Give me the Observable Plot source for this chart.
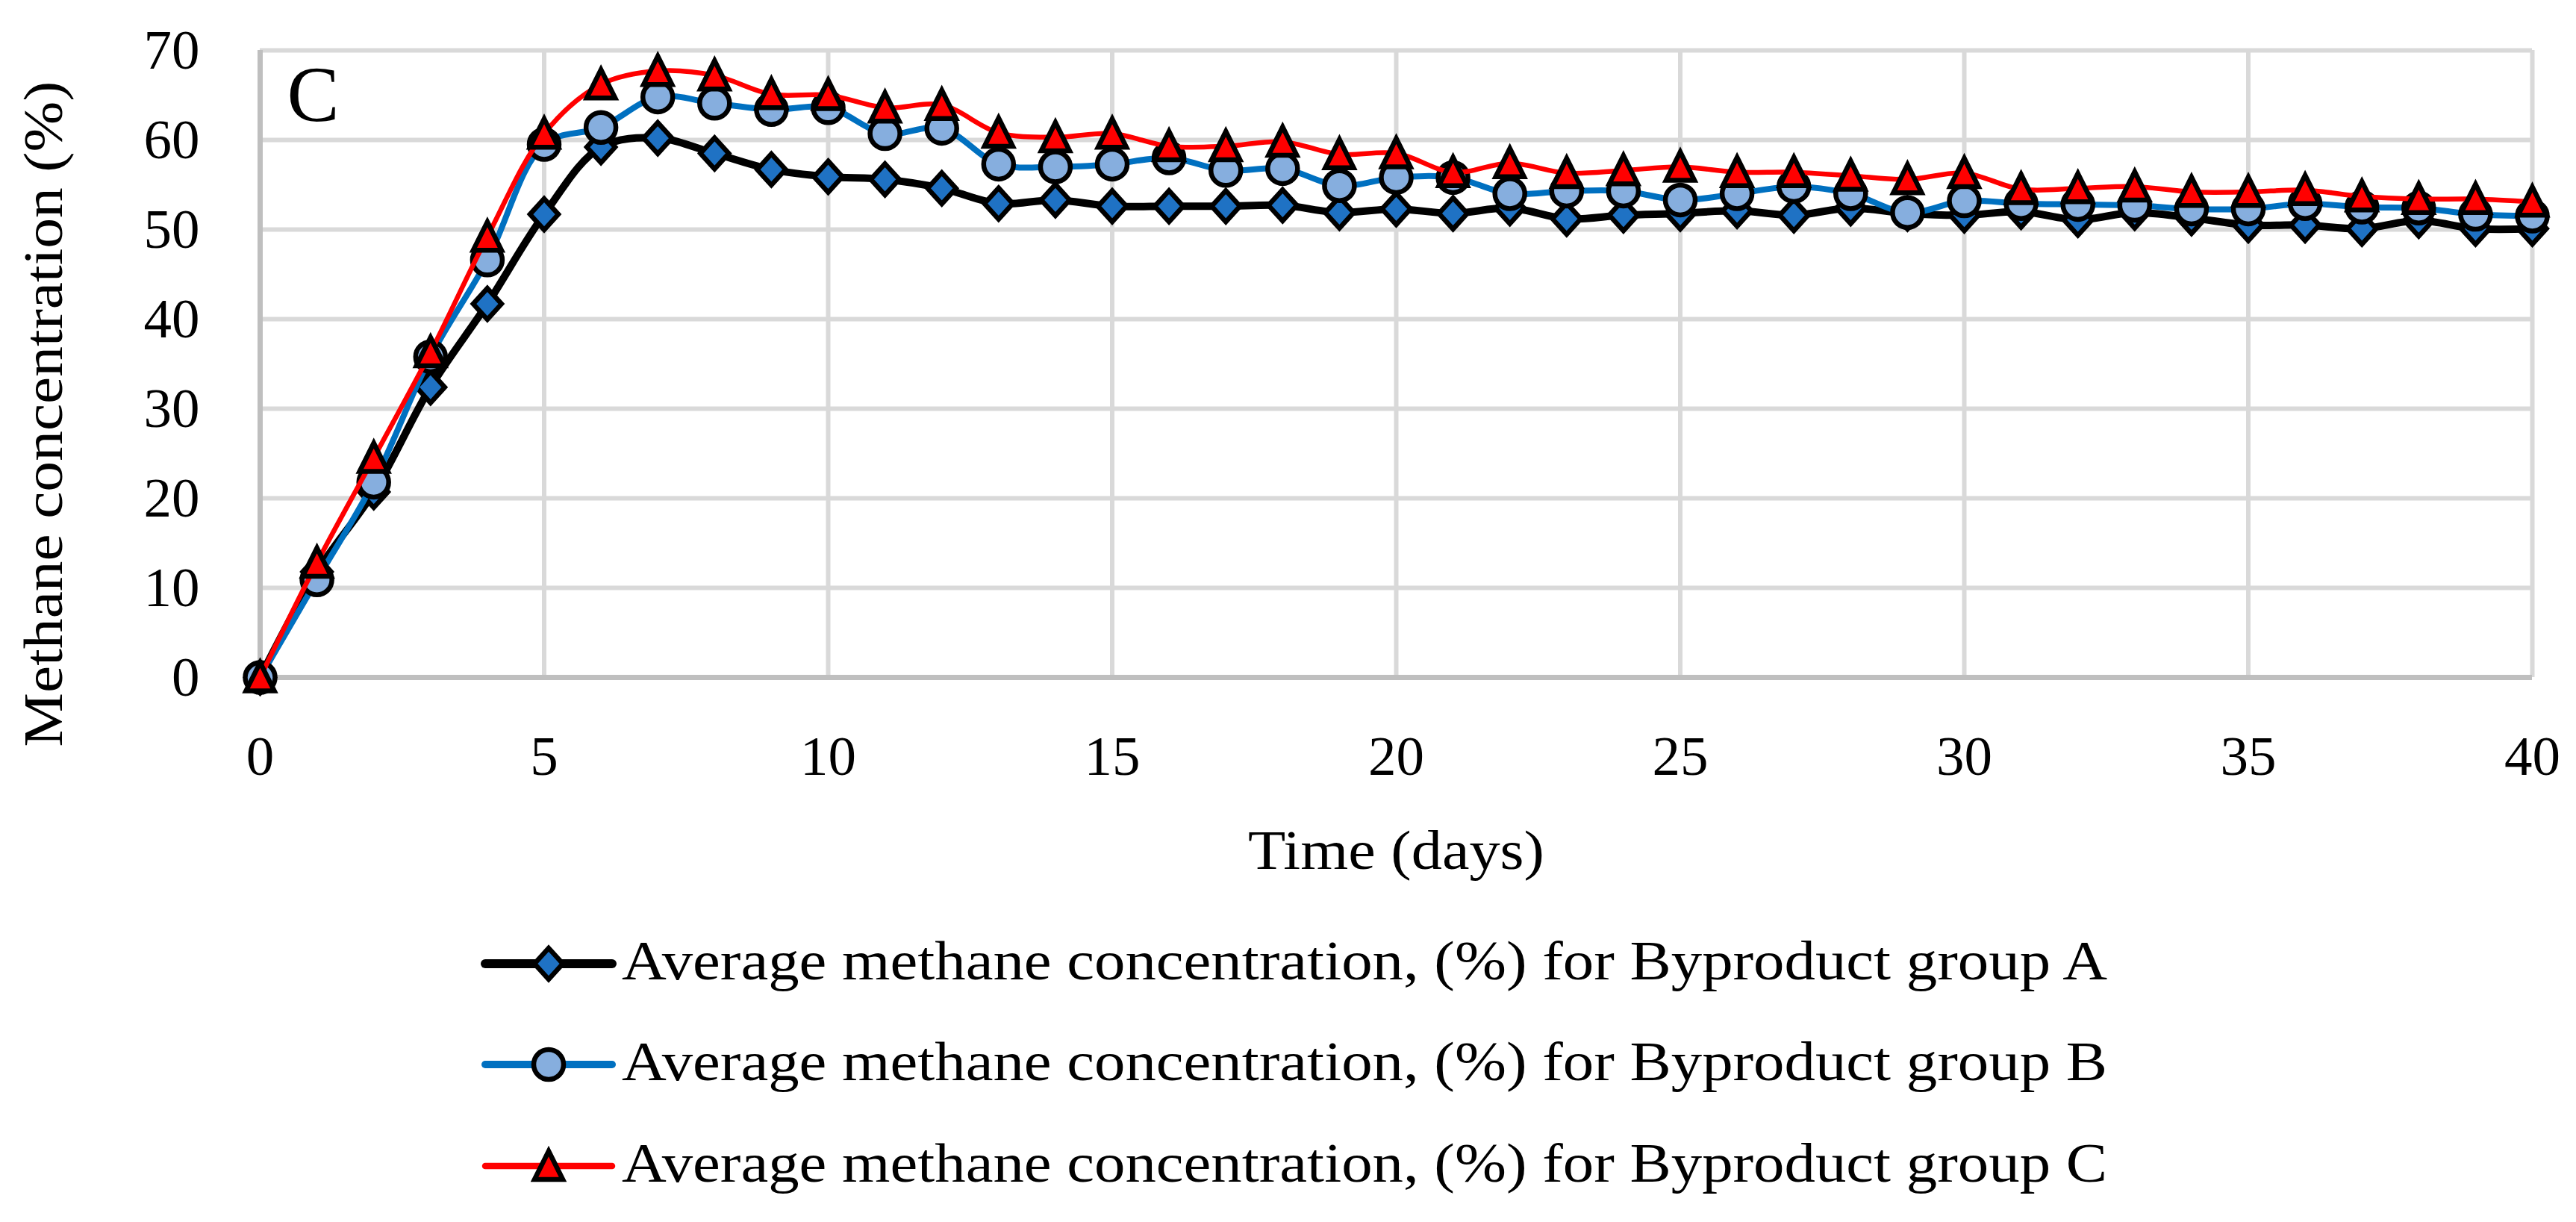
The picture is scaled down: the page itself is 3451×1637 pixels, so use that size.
<!DOCTYPE html>
<html>
<head>
<meta charset="utf-8">
<script src="https://cdn.jsdelivr.net/npm/d3@7"></script>
<script src="https://cdn.jsdelivr.net/npm/@observablehq/plot@0.6"></script>
<style>
  html, body { margin: 0; padding: 0; background: #fff; }
  #chart svg { display: block; }
</style>
</head>
<body>
<div id="chart"></div>
<script>
// ---------- data ----------
const days = [0,1,2,3,4,5,6,7,8,9,10,11,12,13,14,15,16,17,18,19,20,21,22,23,24,25,26,27,28,29,30,31,32,33,34,35,36,37,38,39,40];
const groupA = [0, 11.8, 20.7, 32.4, 41.7, 51.7, 59.2, 60.2, 58.5, 56.7, 55.9, 55.6, 54.6, 52.9, 53.3, 52.6, 52.6, 52.6, 52.7, 51.9, 52.3, 51.8, 52.4, 51.2, 51.6, 51.8, 52.1, 51.6, 52.4, 51.8, 51.6, 52.0, 51.1, 51.9, 51.3, 50.5, 50.5, 50.1, 51.0, 50.1, 50.1];
const groupB = [0, 10.9, 21.8, 35.8, 46.6, 59.5, 61.4, 64.8, 64.1, 63.4, 63.6, 60.7, 61.3, 57.3, 57.0, 57.3, 58.0, 56.6, 56.8, 54.9, 55.8, 55.8, 54.0, 54.3, 54.3, 53.3, 54.0, 54.8, 54.0, 51.9, 53.2, 52.9, 52.8, 52.7, 52.3, 52.3, 52.9, 52.5, 52.4, 51.7, 51.5];
const groupC = [0, 12.8, 24.5, 36.3, 49.2, 60.7, 66.2, 67.7, 67.2, 65.1, 65.0, 63.6, 63.9, 60.8, 60.3, 60.7, 59.3, 59.3, 59.8, 58.4, 58.5, 56.4, 57.4, 56.3, 56.6, 57.0, 56.4, 56.4, 56.0, 55.6, 56.3, 54.5, 54.6, 54.8, 54.2, 54.2, 54.4, 53.7, 53.4, 53.4, 53.1];
const xTicks = [0, 5, 10, 15, 20, 25, 30, 35, 40];
const yTicks = [0, 10, 20, 30, 40, 50, 60, 70];
const seriesNames = [
  "Average methane concentration, (%) for Byproduct group A",
  "Average methane concentration, (%) for Byproduct group B",
  "Average methane concentration, (%) for Byproduct group C"
];
const xTitle = "Time (days)";
const yTitle = "Methane concentration (%)";
const panelLabel = "C";

// ---------- symbols (Excel-like) ----------
const excelDiamond = {draw(ctx, size) {
  const r = Math.sqrt(size / Math.PI);
  ctx.moveTo(0, -r * 1.1); ctx.lineTo(r, 0); ctx.lineTo(0, r * 1.1); ctx.lineTo(-r, 0); ctx.closePath();
}};
const excelTriangle = {draw(ctx, size) {
  const r = Math.sqrt(size / Math.PI);
  ctx.moveTo(0, -r * 1.05); ctx.lineTo(r, r * 0.95); ctx.lineTo(-r, r * 0.95); ctx.closePath();
}};
const excelCircle = {draw(ctx, size) {
  const r = Math.sqrt(size / Math.PI);
  ctx.moveTo(r, 0); ctx.arc(0, 0, r, 0, 2 * Math.PI); ctx.closePath();
}};

const series = [
  {values: groupA, name: seriesNames[0], line: "#000000", lw: 10, fill: "#1f72c4", symbol: excelDiamond, r: 19},
  {values: groupB, name: seriesNames[1], line: "#0070c0", lw: 8, fill: "#86aede", symbol: excelCircle, r: 20},
  {values: groupC, name: seriesNames[2], line: "#ff0000", lw: 6.5, fill: "#ff0000", symbol: excelTriangle, r: 19}
];

const FONT = "'Liberation Serif', 'Times New Roman', serif";
const W = 3451, H = 1200;

const marks = [
  Plot.gridX(xTicks, {stroke: "#d9d9d9", strokeWidth: 6, strokeOpacity: 1}),
  Plot.gridY(yTicks, {stroke: "#d9d9d9", strokeWidth: 6, strokeOpacity: 1}),
  Plot.ruleX([0], {stroke: "#bfbfbf", strokeWidth: 7}),
  Plot.ruleY([0], {stroke: "#bfbfbf", strokeWidth: 7}),
  Plot.axisX({ticks: xTicks, tickSize: 0, tickPadding: 77, label: null, fontSize: 75, tickFormat: d => String(d)}),
  Plot.axisY({ticks: yTicks, tickSize: 0, tickPadding: 81, label: null, fontSize: 75, tickFormat: d => String(d)})
];
for (const s of series) {
  const rows = days.map((d, i) => ({day: d, value: s.values[i]}));
  marks.push(Plot.line(rows, {x: "day", y: "value", stroke: s.line, strokeWidth: s.lw, curve: "catmull-rom", strokeLinejoin: "round", strokeLinecap: "round"}));
  marks.push(Plot.dot(rows, {x: "day", y: "value", symbol: s.symbol, r: s.r, fill: s.fill, stroke: "#000", strokeWidth: 6.5}));
}
marks.push(Plot.text([panelLabel], {text: d => d, frameAnchor: "top-left", textAnchor: "start", lineAnchor: "middle", dx: 36, dy: 61, fontSize: 105, fill: "#000"}));
marks.push(Plot.text([xTitle], {text: d => d, frameAnchor: "bottom", textAnchor: "middle", lineAnchor: "middle", dy: 233, fontSize: 73, fill: "#000"}));
marks.push(Plot.text([yTitle], {text: d => d, frameAnchor: "left", textAnchor: "middle", lineAnchor: "middle", dx: -290, dy: 67, rotate: -90, fontSize: 75, fill: "#000"}));

const plot = Plot.plot({
  width: W, height: H,
  marginLeft: 348, marginRight: 59, marginTop: 67, marginBottom: H - 907,
  x: {domain: [0, 40]},
  y: {domain: [0, 70]},
  style: {fontFamily: FONT, fontSize: "75px", color: "#000", background: "#fff", overflow: "visible"},
  marks
});
document.getElementById("chart").appendChild(plot);

// stretch titles to the reference widths
d3.select(plot).selectAll("text").each(function() {
  const t = this.textContent;
  if (t === xTitle) { this.setAttribute("textLength", 397); this.setAttribute("lengthAdjust", "spacingAndGlyphs"); }
  if (t === yTitle) { this.setAttribute("textLength", 892); this.setAttribute("lengthAdjust", "spacingAndGlyphs"); }
});

// ---------- legend (below the chart) ----------
const LH = 1637 - H;
const leg = d3.select("#chart").append("svg")
  .attr("width", W).attr("height", LH)
  .style("display", "block").style("background", "#fff");
const rowY = [91, 226, 362];
series.forEach((s, i) => {
  const g = leg.append("g").attr("transform", `translate(0,${rowY[i]})`);
  g.append("line").attr("x1", 650).attr("x2", 820).attr("y1", 0).attr("y2", 0)
    .attr("stroke", s.line).attr("stroke-width", s.lw + 2).attr("stroke-linecap", "round");
  const p = d3.path();
  s.symbol.draw(p, Math.PI * s.r * s.r);
  g.append("path").attr("d", p.toString()).attr("transform", "translate(735,0)")
    .attr("fill", s.fill).attr("stroke", "#000").attr("stroke-width", 6.5);
  g.append("text").attr("x", 833).attr("y", 21)
    .attr("font-family", FONT).attr("font-size", 74).attr("fill", "#000")
    .attr("textLength", 1990).attr("lengthAdjust", "spacingAndGlyphs")
    .text(s.name);
});
</script>
</body>
</html>
